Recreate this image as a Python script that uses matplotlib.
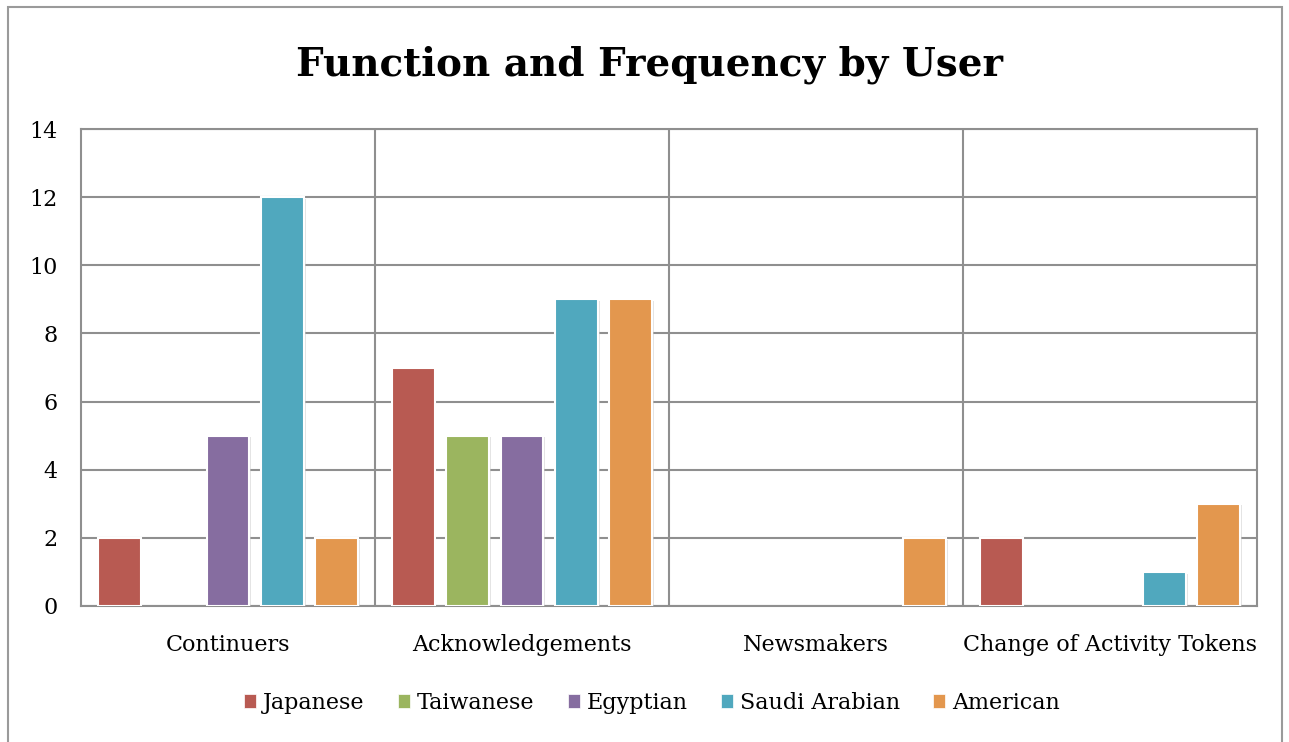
import matplotlib
matplotlib.use("Agg")
import matplotlib.pyplot as plt
import matplotlib.patches as mpatches
import matplotlib.patheffects as pe
import numpy as np

categories = ["Continuers", "Acknowledgements", "Newsmakers", "Change of Activity Tokens"]
series_names = ["Japanese", "Taiwanese", "Egyptian", "Saudi Arabian", "American"]
japanese = [2, 7, 0, 2]
taiwanese = [0, 5, 0, 0]
egyptian = [5, 5, 0, 0]
saudi_arabian = [12, 9, 0, 1]
american = [2, 9, 2, 3]
series_values = [japanese, taiwanese, egyptian, saudi_arabian, american]
colors = ["#B85A52", "#9BB55F", "#866DA0", "#50A8BE", "#E3974E"]
y_ticks = [0, 2, 4, 6, 8, 10, 12, 14]

FONT = "DejaVu Serif"
GRID = "#8f8f8f"

fig = plt.figure(figsize=(12.89, 7.42), dpi=100)
ax = fig.add_axes([81 / 1289, 1 - 606 / 742, (1257 - 81) / 1289, (606 - 129) / 742])

# outer chart frame
fig.add_artist(mpatches.Rectangle(
    (8 / 1289, -0.05), (1282 - 8) / 1289, 1.05 - 7 / 742,
    transform=fig.transFigure, fill=False, edgecolor="#9a9a9a", lw=1.5))

x = np.arange(len(categories))
slot = 0.185
width = 0.146
shadow = [pe.SimplePatchShadow(offset=(1.2, -1.2), shadow_rgbFace="#c8c8c8", alpha=0.5), pe.Normal()]
for i, (name, vals, c) in enumerate(zip(series_names, series_values, colors)):
    bars = ax.bar(x + (i - 2) * slot, vals, width, color=c, edgecolor="white",
                  linewidth=1.5, zorder=3)
    for b in bars:
        if b.get_height() > 0:
            b.set_path_effects(shadow)
        else:
            b.set_visible(False)

ax.set_xlim(-0.5, len(categories) - 0.5)
ax.set_ylim(0, 14)
ax.set_yticks(y_ticks)
ax.set_xticks(x)
ax.set_xticklabels(categories)
ax.set_xticks(x[:-1] + 0.5, minor=True)
ax.grid(axis="y", which="major", color=GRID, lw=1.5, zorder=0)
ax.grid(axis="x", which="minor", color=GRID, lw=1.5, zorder=0)
ax.tick_params(axis="both", which="both", length=0)
ax.tick_params(axis="x", pad=20, labelsize=16)
ax.tick_params(axis="y", pad=17, labelsize=16)
for lab in ax.get_xticklabels() + ax.get_yticklabels():
    lab.set_family(FONT)
for s in ax.spines.values():
    s.set_color(GRID)
    s.set_linewidth(1.5)

fig.text(650 / 1289, 1 - 65 / 742, "Function and Frequency by User",
         ha="center", va="center", fontsize=28, fontweight="bold", family=FONT)

handles = [mpatches.Patch(facecolor=c, edgecolor="white", lw=0.5, label=n)
           for n, c in zip(series_names, colors)]
fig.legend(handles=handles, loc="center", bbox_to_anchor=(652 / 1289, 1 - 703 / 742), ncol=5,
           frameon=False, prop={"family": FONT, "size": 16},
           handlelength=0.55, handleheight=0.6, handletextpad=0.3, columnspacing=1.5)

fig.savefig("out.png", dpi=100)
